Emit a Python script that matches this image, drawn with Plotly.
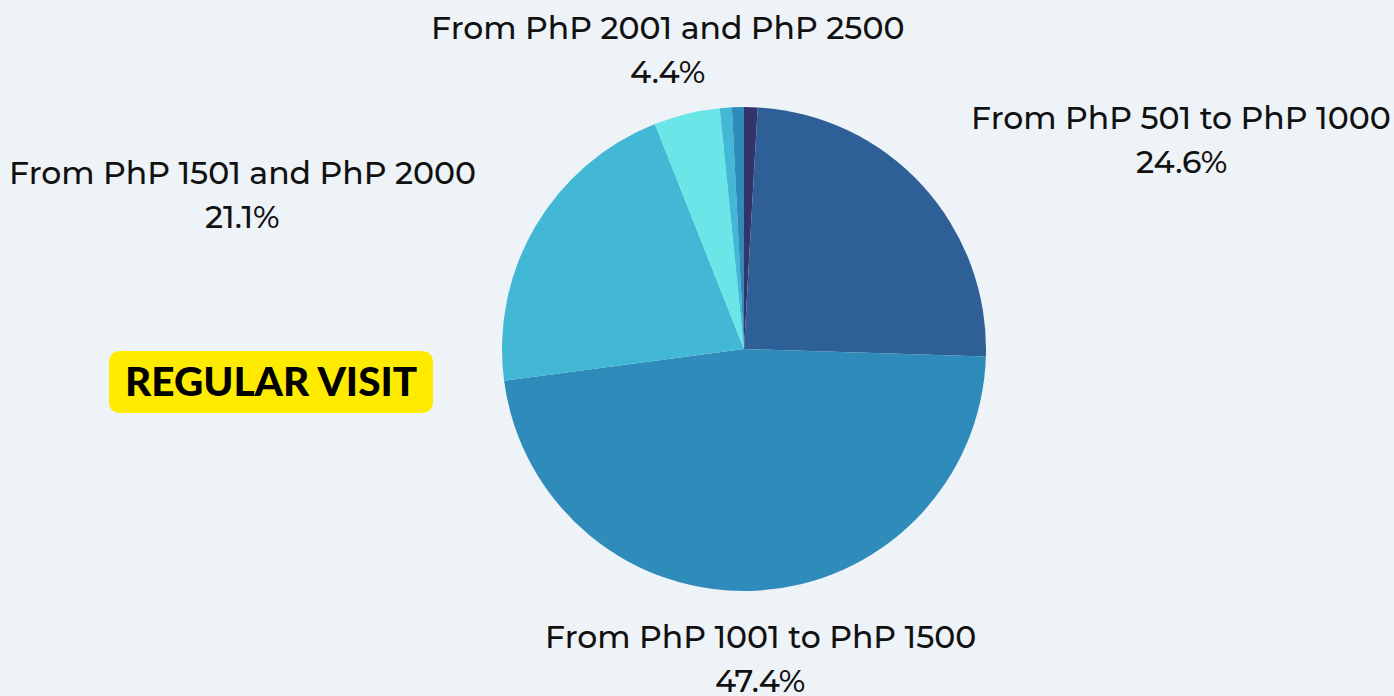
import plotly.graph_objects as go

categories = [
    "PhP 500 and below",
    "From PhP 501 to PhP 1000",
    "From PhP 1001 to PhP 1500",
    "From PhP 1501 and PhP 2000",
    "From PhP 2001 and PhP 2500",
    "From PhP 2501 to PhP 3000",
    "Above PhP 3000",
]
shares = [0.9, 24.6, 47.4, 21.1, 4.4, 0.8, 0.8]
colors = ["#33346B", "#2F5F97", "#2E8BBA", "#42B7D6", "#6BE6E8", "#42B7D6", "#2E8BBA"]
show_label = [False, True, True, True, True, False, False]
badge_text = "REGULAR VISIT"

W, H = 1394, 696
BG = "#EEF3F8"
cx, cy, r = 744, 349, 242

fig = go.Figure(go.Pie(
    labels=categories,
    values=shares,
    marker=dict(colors=colors, line=dict(width=0)),
    sort=False,
    direction="clockwise",
    rotation=0,
    textinfo="none",
    hoverinfo="label+percent",
    showlegend=False,
    domain=dict(x=[(cx - r) / W, (cx + r) / W], y=[(H - cy - r) / H, (H - cy + r) / H]),
))

label_pos = {
    1: (1181, 118),
    2: (760, 637),
    3: (242, 173),
    4: (667, 28),
}
font = dict(family="Montserrat, 'Open Sans', sans-serif", size=31.5, color="#111111", weight=500)
anns = []
for i, (cat, v) in enumerate(zip(categories, shares)):
    if not show_label[i]:
        continue
    px, py = label_pos[i]
    anns.append(dict(x=px / W, y=1 - py / H, xref="paper", yref="paper", text=cat,
                     showarrow=False, xanchor="center", yanchor="middle", font=font))
    anns.append(dict(x=px / W, y=1 - (py + 44) / H, xref="paper", yref="paper", text=f"{v:.1f}%",
                     showarrow=False, xanchor="center", yanchor="middle", font=font))

anns.append(dict(x=271 / W, y=1 - 380 / H, xref="paper", yref="paper", text=badge_text,
                 showarrow=False, xanchor="center", yanchor="middle",
                 font=dict(family="Lato, Roboto, sans-serif", size=40.5, color="#000000", weight=900)))

x0, x1, y0, y1, rr = 109, 433, 351, 413, 12
def P(x, y):
    return f"{x / W:.5f},{1 - y / H:.5f}"
path = (f"M {P(x0 + rr, y0)} L {P(x1 - rr, y0)} Q {P(x1, y0)} {P(x1, y0 + rr)} "
        f"L {P(x1, y1 - rr)} Q {P(x1, y1)} {P(x1 - rr, y1)} L {P(x0 + rr, y1)} "
        f"Q {P(x0, y1)} {P(x0, y1 - rr)} L {P(x0, y0 + rr)} Q {P(x0, y0)} {P(x0 + rr, y0)} Z")

fig.update_layout(
    width=W, height=H,
    margin=dict(l=0, r=0, t=0, b=0),
    paper_bgcolor=BG, plot_bgcolor=BG,
    annotations=anns,
    shapes=[dict(type="path", xref="paper", yref="paper", path=path,
                 fillcolor="#FFEB00", line=dict(width=0), layer="below")],
)
fig.write_html(
    "out.html",
    config={"displayModeBar": False},
    post_script="document.body.style.margin='0';document.body.style.background='" + BG + "';",
)
